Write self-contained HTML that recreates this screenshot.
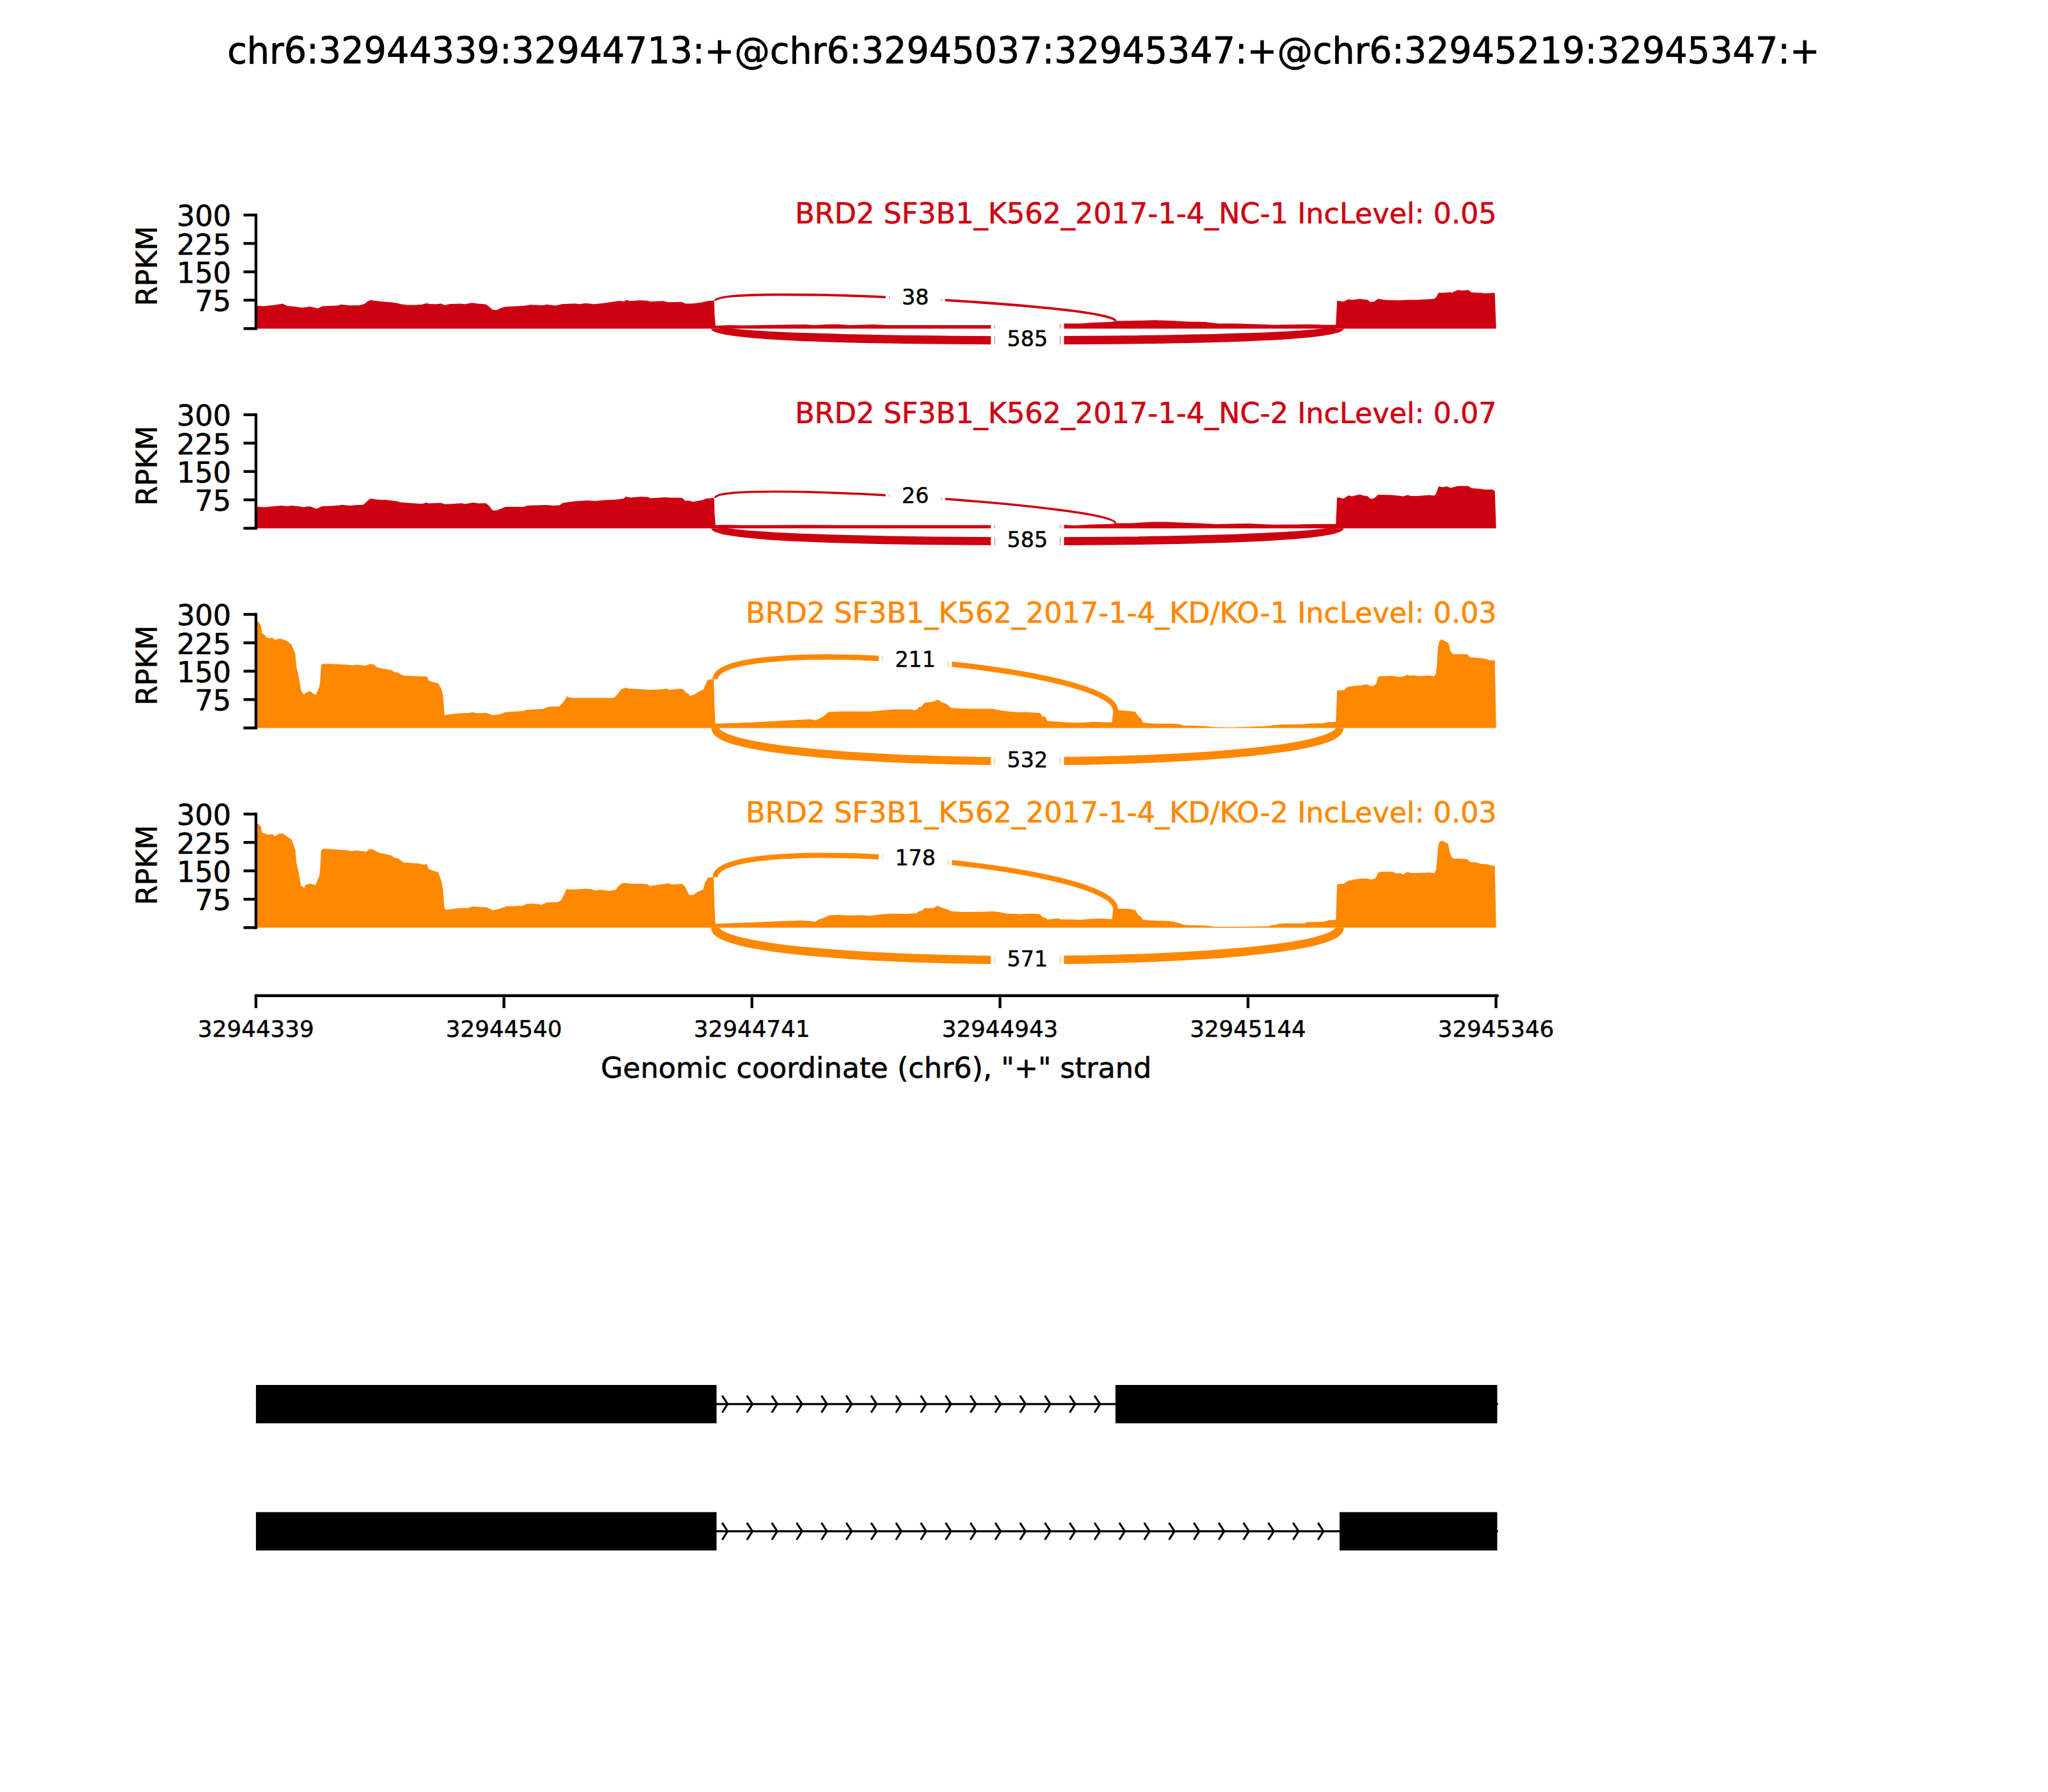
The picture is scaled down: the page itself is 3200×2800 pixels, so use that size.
<!DOCTYPE html>
<html lang="en"><head><meta charset="utf-8"><title>Sashimi plot</title>
<style>html,body{margin:0;padding:0;background:#fff}body{width:3200px;height:2800px;overflow:hidden}svg{display:block}text{font-family:"DejaVu Sans","Liberation Sans",sans-serif;fill:#000;stroke:#000;stroke-width:0.6px;stroke-linejoin:round}.t6{stroke-width:0.5px}.t10{stroke-width:0.75px}</style></head><body>
<svg width="3200" height="2800" viewBox="0 0 3200 2800">
<rect width="3200" height="2800" fill="#fff"/>
<text class="t10" transform="translate(1599.2 99) scale(1 1.025)" font-size="55.58" text-anchor="middle">chr6:32944339:32944713:+@chr6:32945037:32945347:+@chr6:32945219:32945347:+</text>
<path d="M399.9 513.4L399.9 477.7L402.7 477.7L411.5 478.5L429.1 476.6L441.8 474.6L448.6 478.1L458.4 478.7L472 480.7L484.7 479.1L496.4 482L503.3 478.5L526.7 477.5L533.6 475.8L546.2 477.3L561.9 477L569.7 474.8L574.6 470.7L578.5 468.9L597 471.3L610.7 472.3L620.5 473.4L626.3 475.2L636.1 476.6L649.8 476.6L659.5 475.8L666.4 473.8L671.2 475L683 475.2L688.8 474.2L694.7 476.8L702.5 475L720.1 474.4L725.9 475.2L737.7 473.2L747.4 474.4L759.1 475.4L764 479.1L769.9 484L775.7 484.4L782.6 481.6L789.6 479.3L790 479.3L819.3 477.7L829.1 476.2L848.6 477.1L854.5 475.8L868.1 477.5L877.9 475.2L897.4 474.2L905.2 475.2L915 473.8L928.7 475.2L946.2 473.2L967.7 469.9L975.5 470.9L977.5 468.8L985.3 470.3L1000.9 469.3L1010.7 469.7L1016.6 471.3L1036.1 470.3L1043.9 472.3L1065.4 471.7L1071.2 474.6L1083 474.2L1094.7 472.7L1106.4 470.3L1115.8 469.5L1116.6 491.8L1118.1 509L1137.7 508L1161.1 508.4L1189.6 508L1190 508L1201.7 507.8L1258.4 507L1272 508L1295.5 506.8L1311.1 506.8L1326.7 508L1365.8 507L1385.3 508L1443.9 508L1548.4 508L1589.6 507L1590 507L1662.3 505.5L1687.7 505.5L1707.2 503.9L1736.5 503.1L1744.3 501.6L1765.8 501.2L1804.8 500.2L1834.1 501.2L1853.7 502.5L1883 503.1L1902.5 505.5L1931.8 505.5L1961.1 506.4L1989.6 507.4L1990 507.4L2042.7 506.8L2068.1 507.4L2087.3 507.4L2089.2 469.9L2099.4 471.3L2107.2 467.4L2112.1 468.8L2124.8 467L2136.5 468.4L2141.4 471.9L2147.2 471.3L2153.1 467L2165.8 468.8L2185.3 469.3L2199 468.4L2214.6 468.4L2241 467L2243.9 464.5L2247.8 457.6L2255.6 457.6L2266.4 456.6L2268.3 457.6L2277.1 453.3L2286.9 454.1L2293.7 453.1L2299.6 457L2314.2 457.6L2320.1 458.6L2333.8 457.6L2335.7 458.6L2337.7 512.9L2337.7 513.4Z" fill="#CC0011"/>
<path d="M1117.6 469.7 C1117.6 444.2 1742.9 476 1742.9 501.5" fill="none" stroke="#CC0011" stroke-width="3.8"/>
<path d="M1117.6 513.4 C1117.6 537.7 2093.1 537.7 2093.1 513.4" fill="none" stroke="#CC0011" stroke-width="13"/>
<rect x="1390.1" y="429" width="80.2" height="75" fill="#fff"/>
<rect x="1383.7" y="429" width="5.5" height="75" fill="#fff"/>
<rect x="1471.3" y="429" width="5.5" height="75" fill="#fff"/>
<rect x="1388.7" y="429" width="83" height="75" fill="#fff" fill-opacity="0.35"/>
<text class="t6" x="1430.2" y="476.3" font-size="33.3" text-anchor="middle">38</text>
<rect x="1554.6" y="494.1" width="101.4" height="75" fill="#fff"/>
<rect x="1548.2" y="494.1" width="5.5" height="75" fill="#fff"/>
<rect x="1657" y="494.1" width="5.5" height="75" fill="#fff"/>
<rect x="1553.2" y="494.1" width="104.2" height="75" fill="#fff" fill-opacity="0.35"/>
<text class="t6" x="1605.3" y="541.4" font-size="33.3" text-anchor="middle">585</text>
<path d="M399.9 336V513.4" stroke="#000" stroke-width="4.4" stroke-linecap="square" fill="none"/>
<path d="M380.5 336H399.9" stroke="#000" stroke-width="4.4" fill="none"/>
<text x="361.2" y="353.2" font-size="44.5" text-anchor="end">300</text>
<path d="M380.5 380.4H399.9" stroke="#000" stroke-width="4.4" fill="none"/>
<text x="361.2" y="397.6" font-size="44.5" text-anchor="end">225</text>
<path d="M380.5 424.7H399.9" stroke="#000" stroke-width="4.4" fill="none"/>
<text x="361.2" y="441.9" font-size="44.5" text-anchor="end">150</text>
<path d="M380.5 469H399.9" stroke="#000" stroke-width="4.4" fill="none"/>
<text x="361.2" y="486.2" font-size="44.5" text-anchor="end">75</text>
<path d="M380.5 513.4H399.9" stroke="#000" stroke-width="4.4" fill="none"/>
<text transform="translate(245.4 415.7) rotate(-90)" font-size="44.5" text-anchor="middle">RPKM</text>
<text x="2338.7" y="349" font-size="44.5" text-anchor="end" style="fill:#CC0011;stroke:#CC0011">BRD2 SF3B1_K562_2017-1-4_NC-1 IncLevel: 0.05</text>
<path d="M399.9 825.4L399.9 791.7L402.7 791.7L413.4 792.5L429.1 791.1L440.8 790.1L448.6 791.1L456.4 790.1L466.2 791.1L474 792.5L483.8 790.9L494.5 795L503.3 791.1L526.7 790.1L534.5 788.8L546.2 790.1L558 789.1L567.7 788.8L573.6 783.3L578.5 779L593.1 780.9L604.8 781.3L620.5 783.3L626.3 784.9L643.9 786.2L659.5 787.2L666.4 785.2L669.3 786.4L688.8 785.8L694.7 787.8L702.5 787.4L722 786.2L725.9 787.6L739.6 785.2L747.4 786.4L759.1 786.2L764 790.1L769.9 797.4L775.7 797.4L782.6 795L789.6 792.1L790 792.1L818.3 792.1L823.2 790.1L854.5 789.1L864.2 790.1L874 789.5L879.8 785.8L897.4 783.3L917 781.9L930.6 782.7L946.2 781.3L961.9 780.8L974.6 779L977.5 776.1L985.3 777.4L1000.9 776.1L1011.7 776.5L1016.6 778.4L1040 777L1047.8 777.8L1065.4 777.8L1071.2 782.7L1075.2 781.9L1083 783.9L1098.6 781.3L1102.5 779L1115.8 778L1116.6 803.8L1118.1 820.8L1125.9 820L1161.1 820.6L1189.6 820.6L1190 820.6L1248.6 820.2L1326.7 820.6L1404.8 820.4L1483 820.6L1548.4 820.6L1589.6 820.4L1590 820.4L1662.3 820L1677.9 821L1707.2 819.4L1736.5 818.8L1744.3 817.5L1765.8 817.5L1800.9 815.5L1824.4 815.5L1843.9 816.5L1873.2 817.5L1898.6 819L1922 818.4L1951.3 818.1L1970.9 819L1989.6 819.8L1990 819.8L2029.1 819.4L2068.1 818.8L2087.3 818.8L2089.2 777L2099.4 779L2107.2 774.1L2112.1 775.5L2124.8 772.5L2130.6 774.5L2136.5 775.1L2141.4 779.4L2147.2 778.4L2153.1 772.9L2175.5 773.5L2193.1 775.5L2199 773.5L2204.8 775.1L2214.6 775.1L2234.1 773.5L2241 774.5L2243.9 771.6L2247.8 759.9L2253.7 761.2L2261.5 759.9L2266.4 762.4L2277.1 759.5L2293.7 759.3L2299.6 762.8L2314.2 764.1L2320.1 765.1L2331.8 764.7L2335.7 767.3L2337.7 824.9L2337.7 825.4Z" fill="#CC0011"/>
<path d="M1117.6 777.7 C1117.6 749.6 1742.9 789.4 1742.9 817.5" fill="none" stroke="#CC0011" stroke-width="3.4"/>
<path d="M1117.6 825.4 C1117.6 852.4 2093.1 852.4 2093.1 825.4" fill="none" stroke="#CC0011" stroke-width="12.7"/>
<rect x="1390.1" y="739" width="80.2" height="75" fill="#fff"/>
<rect x="1383.7" y="739" width="5.5" height="75" fill="#fff"/>
<rect x="1471.3" y="739" width="5.5" height="75" fill="#fff"/>
<rect x="1388.7" y="739" width="83" height="75" fill="#fff" fill-opacity="0.35"/>
<text class="t6" x="1430.2" y="786.3" font-size="33.3" text-anchor="middle">26</text>
<rect x="1554.6" y="808.1" width="101.4" height="75" fill="#fff"/>
<rect x="1548.2" y="808.1" width="5.5" height="75" fill="#fff"/>
<rect x="1657" y="808.1" width="5.5" height="75" fill="#fff"/>
<rect x="1553.2" y="808.1" width="104.2" height="75" fill="#fff" fill-opacity="0.35"/>
<text class="t6" x="1605.3" y="855.4" font-size="33.3" text-anchor="middle">585</text>
<path d="M399.9 648V825.4" stroke="#000" stroke-width="4.4" stroke-linecap="square" fill="none"/>
<path d="M380.5 648H399.9" stroke="#000" stroke-width="4.4" fill="none"/>
<text x="361.2" y="665.2" font-size="44.5" text-anchor="end">300</text>
<path d="M380.5 692.4H399.9" stroke="#000" stroke-width="4.4" fill="none"/>
<text x="361.2" y="709.6" font-size="44.5" text-anchor="end">225</text>
<path d="M380.5 736.7H399.9" stroke="#000" stroke-width="4.4" fill="none"/>
<text x="361.2" y="753.9" font-size="44.5" text-anchor="end">150</text>
<path d="M380.5 781H399.9" stroke="#000" stroke-width="4.4" fill="none"/>
<text x="361.2" y="798.2" font-size="44.5" text-anchor="end">75</text>
<path d="M380.5 825.4H399.9" stroke="#000" stroke-width="4.4" fill="none"/>
<text transform="translate(245.4 727.7) rotate(-90)" font-size="44.5" text-anchor="middle">RPKM</text>
<text x="2338.7" y="661" font-size="44.5" text-anchor="end" style="fill:#CC0011;stroke:#CC0011">BRD2 SF3B1_K562_2017-1-4_NC-2 IncLevel: 0.07</text>
<path d="M399.9 1137.4L399.9 971.5L402.7 971.5L404.6 972.5L407.6 977.3L409.5 990L412.5 990.6L415.4 995.3L419.3 996.9L426.1 996.5L429.1 999.8L435.9 997.9L441.8 998.8L448.6 1001.8L455.4 1007L458.4 1014.5L461.3 1021.3L463.2 1041.8L467.1 1059.4L470.1 1077L472 1082.4L473.6 1082.8L475 1086.3L476.9 1082.4L484.7 1080.3L489.6 1083.8L493.1 1085.7L496.4 1078.9L499 1073L500.4 1063.3L501.7 1038.9L505.2 1037.1L517 1037.3L530.6 1037.9L542.3 1038.5L548.2 1039.5L558 1038.7L565.8 1039.6L570.7 1040.2L577.5 1037.5L584.3 1038.3L587.3 1041.4L593.1 1043.8L600.9 1045.1L611.7 1047.3L616.6 1050.2L621.4 1050.8L628.3 1054.9L636.1 1055.9L651.7 1056.6L667.3 1057L669.7 1063.3L675.2 1065.6L684.9 1067.8L689.8 1077L692.3 1086.7L693.7 1104.3L694.3 1117.4L702.5 1116.2L718.1 1114.5L731.8 1114.1L738.6 1113.1L747.4 1114.5L759.1 1113.7L769.9 1117.4L778.7 1116.4L789.6 1113.1L790 1112.7L819.3 1110.7L821.2 1109.2L848.6 1107.8L852.5 1105.7L858.4 1104.3L874 1103.7L878.9 1098.4L882.8 1093.6L885.7 1087.7L888.6 1089.6L895.5 1090.6L917 1090.6L946.2 1090.6L958 1090.6L961.9 1088.3L965.8 1083.2L971.6 1076.6L977.5 1074.2L982.4 1076L1004.8 1077L1014.6 1078.1L1034.1 1077L1042 1076L1045.9 1077.9L1063.4 1076L1067.3 1077L1073.2 1083.8L1075.5 1082.8L1077.1 1087.3L1083 1086.1L1090.8 1081.2L1099.6 1077L1101.5 1071.1L1105.4 1063.3L1107.4 1061.7L1115.2 1061.3L1116.2 1098.4L1117.7 1130.7L1161.1 1129.3L1189.6 1128.1L1190 1128.1L1209.5 1126.8L1238.8 1125.2L1266.2 1123.8L1274 1125.4L1281.8 1121.9L1287.7 1118.4L1291.6 1114.5L1295.5 1112.5L1317 1111.5L1358 1111.7L1375.5 1110.2L1395.1 1108.6L1424.4 1108.6L1428.3 1109.8L1433.2 1108.2L1436.1 1104.7L1440 1103.9L1443.9 1098.4L1447.8 1097.5L1457.6 1096.5L1465.4 1093.2L1471.2 1096.9L1479.1 1100L1485.9 1105.9L1502.5 1107.2L1522 1107.4L1551.3 1107.4L1561.1 1109.8L1576.7 1111.7L1589.6 1112.7L1590 1113.1L1601.7 1112.5L1625.2 1114.1L1628.1 1118.9L1633 1119.9L1636.9 1126.8L1654.5 1127.7L1672 1128.9L1687.7 1129.3L1707.2 1128.1L1737.5 1128.7L1739.4 1109.2L1746.2 1109.6L1773.6 1112.1L1779.5 1119.9L1782.4 1121.9L1786.3 1129.3L1804.8 1130.7L1830.2 1130.7L1843.9 1131.6L1847.8 1133.6L1883 1134.6L1894.7 1135.9L1922 1136.5L1941.6 1136.1L1961.1 1135.2L1984.5 1134.2L1989.6 1132.8L1990 1133.2L2003.7 1132L2038.8 1131.6L2042.7 1130.7L2068.1 1130.1L2075.9 1128.3L2087.3 1128.1L2089.2 1078.9L2100.4 1078.3L2105.2 1073.4L2117 1071.5L2126.7 1071.1L2135.5 1069.1L2141.4 1072.1L2147.2 1071.5L2150.5 1067.2L2153.1 1058.4L2156 1056.6L2175.5 1056.1L2185.3 1057.4L2193.1 1057L2199 1054.1L2202.9 1055.9L2208.8 1055.1L2216.6 1056.4L2234.1 1055.5L2241 1057L2243.9 1051.6L2245.5 1034L2246.8 1012.5L2248.8 1001.8L2252.7 998.8L2256.6 1001.2L2263.4 1004.7L2265.8 1016.4L2270.3 1022.3L2292.7 1022.3L2297.6 1027.5L2306.4 1027.5L2322 1029.5L2326.9 1031.6L2335.7 1032L2337.7 1137.1L2337.7 1137.4Z" fill="#FF8800"/>
<path d="M1117.6 1061.3 C1117.6 990.6 1742.9 1039.3 1742.9 1110" fill="none" stroke="#FF8800" stroke-width="8.5"/>
<path d="M1117.6 1137.4 C1117.6 1206.6 2093.1 1206.6 2093.1 1137.4" fill="none" stroke="#FF8800" stroke-width="12.6"/>
<rect x="1379.5" y="995.1" width="101.4" height="75" fill="#fff"/>
<rect x="1373.1" y="995.1" width="5.5" height="75" fill="#fff"/>
<rect x="1481.9" y="995.1" width="5.5" height="75" fill="#fff"/>
<rect x="1378.1" y="995.1" width="104.2" height="75" fill="#fff" fill-opacity="0.35"/>
<text class="t6" x="1430.2" y="1042.4" font-size="33.3" text-anchor="middle">211</text>
<rect x="1554.6" y="1151.8" width="101.4" height="75" fill="#fff"/>
<rect x="1548.2" y="1151.8" width="5.5" height="75" fill="#fff"/>
<rect x="1657" y="1151.8" width="5.5" height="75" fill="#fff"/>
<rect x="1553.2" y="1151.8" width="104.2" height="75" fill="#fff" fill-opacity="0.35"/>
<text class="t6" x="1605.3" y="1199.1" font-size="33.3" text-anchor="middle">532</text>
<path d="M399.9 960V1137.4" stroke="#000" stroke-width="4.4" stroke-linecap="square" fill="none"/>
<path d="M380.5 960H399.9" stroke="#000" stroke-width="4.4" fill="none"/>
<text x="361.2" y="977.2" font-size="44.5" text-anchor="end">300</text>
<path d="M380.5 1004.4H399.9" stroke="#000" stroke-width="4.4" fill="none"/>
<text x="361.2" y="1021.6" font-size="44.5" text-anchor="end">225</text>
<path d="M380.5 1048.7H399.9" stroke="#000" stroke-width="4.4" fill="none"/>
<text x="361.2" y="1065.9" font-size="44.5" text-anchor="end">150</text>
<path d="M380.5 1093.1H399.9" stroke="#000" stroke-width="4.4" fill="none"/>
<text x="361.2" y="1110.3" font-size="44.5" text-anchor="end">75</text>
<path d="M380.5 1137.4H399.9" stroke="#000" stroke-width="4.4" fill="none"/>
<text transform="translate(245.4 1039.7) rotate(-90)" font-size="44.5" text-anchor="middle">RPKM</text>
<text x="2338.7" y="973" font-size="44.5" text-anchor="end" style="fill:#FF8800;stroke:#FF8800">BRD2 SF3B1_K562_2017-1-4_KD/KO-1 IncLevel: 0.03</text>
<path d="M399.9 1449.4L399.9 1287L402.7 1287L404.6 1288.4L407.6 1290.9L409.5 1301.6L413.4 1302L417.3 1304L426.1 1303.6L429.1 1306.5L436.9 1302.6L441.8 1302.4L448.6 1306.9L455.4 1311.8L458.4 1319.6L461.3 1327.4L463.2 1347.9L467.1 1365.5L470.1 1384.1L473.6 1385.4L475 1389L476.9 1383.1L484.7 1380.6L488.6 1382.1L493.1 1382.7L496.4 1374.3L499 1368.4L500.4 1355.8L501.7 1328.4L505.2 1326.1L517 1326.5L530.6 1328L542.3 1328.4L548.2 1329.8L558 1329L567.7 1330L571.6 1331.3L577.5 1326.5L583.4 1327.4L587.3 1330L593.1 1332.7L600.9 1334.3L611.7 1336.8L616.6 1340.5L622.4 1341.3L630.2 1347.5L643.9 1348.5L655.6 1349.3L660.5 1350.9L667.3 1350.3L669.7 1357.7L675.2 1359.7L684.9 1363L689.8 1377.2L692.3 1390.9L693.7 1410.4L694.7 1420.2L698.6 1421.4L706.4 1420.2L720.1 1418.8L731.8 1418.8L737.7 1416.3L747.4 1416.9L760.1 1417.7L770.9 1422.2L778.7 1420.2L789.6 1416.9L790 1416.3L817.3 1415.3L822.2 1412.4L831 1411.8L846.6 1413.4L854.5 1410L872 1409.5L876.9 1406.5L880.8 1398.7L885.1 1389.3L895.5 1389.9L917 1388.6L926.7 1389.9L929.6 1391.5L938.4 1390.3L952.1 1391.9L961.9 1390.5L965.8 1385L971.6 1380.2L978.5 1379.6L985.3 1381.1L1002.9 1380.8L1012.7 1382.1L1014.6 1384.5L1024.4 1383.1L1043.9 1380.2L1049.8 1382.1L1065.4 1381.1L1070.3 1385L1074.2 1392.9L1077.1 1398.7L1083.9 1398.1L1090.8 1392.9L1098.6 1389.9L1101.5 1379.2L1106 1371.4L1115.2 1370.4L1116.2 1410.4L1117.7 1443.6L1161.1 1441.7L1189.6 1440.7L1190 1440.7L1219.3 1439.3L1252.5 1438.2L1266.2 1439.3L1274 1440.3L1279.8 1436.4L1287.7 1433.9L1295.5 1430L1311.1 1429.6L1326.7 1430.4L1346.2 1430L1358 1430.9L1377.5 1428.6L1395.1 1427.4L1414.6 1428L1432.2 1427L1436.1 1423.7L1441 1422.5L1443.9 1419.2L1457.6 1418.8L1465.4 1415.3L1471.2 1418.2L1481 1421.2L1486.9 1424.1L1506.4 1425.1L1531.8 1424.7L1551.3 1424.1L1561.1 1425.1L1572.8 1427.6L1589.6 1428L1590 1428.4L1609.5 1427.6L1625.2 1428.6L1629.1 1432.9L1633 1433.5L1636.9 1436.8L1646.6 1435.4L1654.5 1434.9L1656.4 1436.4L1672 1436.4L1687.7 1437.2L1707.2 1435.4L1722.8 1435.2L1737.5 1436.2L1739.4 1419.2L1746.2 1419.8L1765.8 1420.2L1774.6 1422.5L1778.5 1430L1782.4 1431.9L1786.3 1437.2L1804.8 1438.4L1824.4 1439.1L1834.1 1440.3L1843.9 1442.7L1849.8 1445.2L1883 1446.2L1898.6 1447.9L1941.6 1448.1L1982.6 1447.2L1986.5 1445.6L1989.6 1445.2L1990 1445.6L1997.8 1443.6L2009.5 1442.7L2038.8 1442.7L2041.8 1440.7L2068.1 1440.3L2075.9 1437.8L2087.3 1437.2L2089.2 1381.5L2099.4 1381.1L2105.2 1376.8L2117 1373.9L2126.7 1372.9L2135.5 1372.4L2141.4 1374.3L2147.2 1373.3L2150.5 1370.4L2153.1 1363.6L2158 1362.2L2175.5 1362L2182.4 1364.9L2187.3 1364.1L2192.1 1366.5L2199 1362.6L2204.8 1364L2216.6 1364.1L2234.1 1363.2L2241 1364.5L2243.9 1358.7L2245.5 1344L2246.8 1324.5L2248.8 1315.7L2252.7 1313.2L2256.6 1315.3L2262.5 1318.2L2265.8 1334.3L2270.3 1341.5L2279.1 1341.5L2292.7 1342.7L2297.6 1347L2306.4 1347.5L2314.2 1349.9L2324 1350.3L2328.9 1352.2L2335.7 1352.4L2337.7 1449.1L2337.7 1449.4Z" fill="#FF8800"/>
<path d="M1117.6 1370.6 C1117.6 1300.3 1742.9 1349.7 1742.9 1420" fill="none" stroke="#FF8800" stroke-width="8"/>
<path d="M1117.6 1449.4 C1117.6 1516.9 2093.1 1516.9 2093.1 1449.4" fill="none" stroke="#FF8800" stroke-width="13.1"/>
<rect x="1379.5" y="1305.1" width="101.4" height="75" fill="#fff"/>
<rect x="1373.1" y="1305.1" width="5.5" height="75" fill="#fff"/>
<rect x="1481.9" y="1305.1" width="5.5" height="75" fill="#fff"/>
<rect x="1378.1" y="1305.1" width="104.2" height="75" fill="#fff" fill-opacity="0.35"/>
<text class="t6" x="1430.2" y="1352.4" font-size="33.3" text-anchor="middle">178</text>
<rect x="1554.6" y="1462.5" width="101.4" height="75" fill="#fff"/>
<rect x="1548.2" y="1462.5" width="5.5" height="75" fill="#fff"/>
<rect x="1657" y="1462.5" width="5.5" height="75" fill="#fff"/>
<rect x="1553.2" y="1462.5" width="104.2" height="75" fill="#fff" fill-opacity="0.35"/>
<text class="t6" x="1605.3" y="1509.8" font-size="33.3" text-anchor="middle">571</text>
<path d="M399.9 1272V1449.4" stroke="#000" stroke-width="4.4" stroke-linecap="square" fill="none"/>
<path d="M380.5 1272H399.9" stroke="#000" stroke-width="4.4" fill="none"/>
<text x="361.2" y="1289.2" font-size="44.5" text-anchor="end">300</text>
<path d="M380.5 1316.3H399.9" stroke="#000" stroke-width="4.4" fill="none"/>
<text x="361.2" y="1333.5" font-size="44.5" text-anchor="end">225</text>
<path d="M380.5 1360.7H399.9" stroke="#000" stroke-width="4.4" fill="none"/>
<text x="361.2" y="1377.9" font-size="44.5" text-anchor="end">150</text>
<path d="M380.5 1405.1H399.9" stroke="#000" stroke-width="4.4" fill="none"/>
<text x="361.2" y="1422.3" font-size="44.5" text-anchor="end">75</text>
<path d="M380.5 1449.4H399.9" stroke="#000" stroke-width="4.4" fill="none"/>
<text transform="translate(245.4 1351.7) rotate(-90)" font-size="44.5" text-anchor="middle">RPKM</text>
<text x="2338.7" y="1285" font-size="44.5" text-anchor="end" style="fill:#FF8800;stroke:#FF8800">BRD2 SF3B1_K562_2017-1-4_KD/KO-2 IncLevel: 0.03</text>
<path d="M399.9 1555.7H2339.4" stroke="#000" stroke-width="4.4" stroke-linecap="square" fill="none"/>
<path d="M399.9 1555.7V1575.1" stroke="#000" stroke-width="4.4" fill="none"/>
<text class="t6" x="399.9" y="1620.4" font-size="35.7" text-anchor="middle">32944339</text>
<path d="M787.4 1555.7V1575.1" stroke="#000" stroke-width="4.4" fill="none"/>
<text class="t6" x="787.4" y="1620.4" font-size="35.7" text-anchor="middle">32944540</text>
<path d="M1174.9 1555.7V1575.1" stroke="#000" stroke-width="4.4" fill="none"/>
<text class="t6" x="1174.9" y="1620.4" font-size="35.7" text-anchor="middle">32944741</text>
<path d="M1562.5 1555.7V1575.1" stroke="#000" stroke-width="4.4" fill="none"/>
<text class="t6" x="1562.5" y="1620.4" font-size="35.7" text-anchor="middle">32944943</text>
<path d="M1950 1555.7V1575.1" stroke="#000" stroke-width="4.4" fill="none"/>
<text class="t6" x="1950" y="1620.4" font-size="35.7" text-anchor="middle">32945144</text>
<path d="M2337.5 1555.7V1575.1" stroke="#000" stroke-width="4.4" fill="none"/>
<text class="t6" x="2337.5" y="1620.4" font-size="35.7" text-anchor="middle">32945346</text>
<text x="1369" y="1684" font-size="44.5" text-anchor="middle">Genomic coordinate (chr6), &quot;+&quot; strand</text>
<path d="M399.9 2193.9H2340.6" stroke="#000" stroke-width="3.1" fill="none"/>
<path d="M430.9 2181.9L438.7 2193.9L430.9 2205.9M469.7 2181.9L477.5 2193.9L469.7 2205.9M508.5 2181.9L516.3 2193.9L508.5 2205.9M547.3 2181.9L555.1 2193.9L547.3 2205.9M586.1 2181.9L593.8 2193.9L586.1 2205.9M624.9 2181.9L632.6 2193.9L624.9 2205.9M663.7 2181.9L671.4 2193.9L663.7 2205.9M702.5 2181.9L710.2 2193.9L702.5 2205.9M741.3 2181.9L749 2193.9L741.3 2205.9M780 2181.9L787.8 2193.9L780 2205.9M818.8 2181.9L826.6 2193.9L818.8 2205.9M857.6 2181.9L865.4 2193.9L857.6 2205.9M896.4 2181.9L904.2 2193.9L896.4 2205.9M935.2 2181.9L943 2193.9L935.2 2205.9M974 2181.9L981.8 2193.9L974 2205.9M1012.8 2181.9L1020.5 2193.9L1012.8 2205.9M1051.6 2181.9L1059.3 2193.9L1051.6 2205.9M1090.4 2181.9L1098.1 2193.9L1090.4 2205.9M1129.2 2181.9L1136.9 2193.9L1129.2 2205.9M1167.9 2181.9L1175.7 2193.9L1167.9 2205.9M1206.7 2181.9L1214.5 2193.9L1206.7 2205.9M1245.5 2181.9L1253.3 2193.9L1245.5 2205.9M1284.3 2181.9L1292.1 2193.9L1284.3 2205.9M1323.1 2181.9L1330.9 2193.9L1323.1 2205.9M1361.9 2181.9L1369.7 2193.9L1361.9 2205.9M1400.7 2181.9L1408.4 2193.9L1400.7 2205.9M1439.5 2181.9L1447.2 2193.9L1439.5 2205.9M1478.3 2181.9L1486 2193.9L1478.3 2205.9M1517.1 2181.9L1524.8 2193.9L1517.1 2205.9M1555.8 2181.9L1563.6 2193.9L1555.8 2205.9M1594.6 2181.9L1602.4 2193.9L1594.6 2205.9M1633.4 2181.9L1641.2 2193.9L1633.4 2205.9M1672.2 2181.9L1680 2193.9L1672.2 2205.9M1711 2181.9L1718.8 2193.9L1711 2205.9M1749.8 2181.9L1757.5 2193.9L1749.8 2205.9M1788.6 2181.9L1796.3 2193.9L1788.6 2205.9M1827.4 2181.9L1835.1 2193.9L1827.4 2205.9M1866.2 2181.9L1873.9 2193.9L1866.2 2205.9M1905 2181.9L1912.7 2193.9L1905 2205.9M1943.7 2181.9L1951.5 2193.9L1943.7 2205.9M1982.5 2181.9L1990.3 2193.9L1982.5 2205.9M2021.3 2181.9L2029.1 2193.9L2021.3 2205.9M2060.1 2181.9L2067.9 2193.9L2060.1 2205.9M2098.9 2181.9L2106.7 2193.9L2098.9 2205.9M2137.7 2181.9L2145.4 2193.9L2137.7 2205.9M2176.5 2181.9L2184.2 2193.9L2176.5 2205.9M2215.3 2181.9L2223 2193.9L2215.3 2205.9M2254.1 2181.9L2261.8 2193.9L2254.1 2205.9M2292.9 2181.9L2300.6 2193.9L2292.9 2205.9" stroke="#000" stroke-width="3.1" fill="none" stroke-linejoin="round" stroke-linecap="square"/>
<rect x="399.9" y="2164" width="719.7" height="59.9" fill="#000"/>
<rect x="1742.9" y="2164" width="596.5" height="59.9" fill="#000"/>
<path d="M399.9 2392.6H2340.6" stroke="#000" stroke-width="3.1" fill="none"/>
<path d="M430.9 2380.6L438.7 2392.6L430.9 2404.6M469.7 2380.6L477.5 2392.6L469.7 2404.6M508.5 2380.6L516.3 2392.6L508.5 2404.6M547.3 2380.6L555.1 2392.6L547.3 2404.6M586.1 2380.6L593.8 2392.6L586.1 2404.6M624.9 2380.6L632.6 2392.6L624.9 2404.6M663.7 2380.6L671.4 2392.6L663.7 2404.6M702.5 2380.6L710.2 2392.6L702.5 2404.6M741.3 2380.6L749 2392.6L741.3 2404.6M780 2380.6L787.8 2392.6L780 2404.6M818.8 2380.6L826.6 2392.6L818.8 2404.6M857.6 2380.6L865.4 2392.6L857.6 2404.6M896.4 2380.6L904.2 2392.6L896.4 2404.6M935.2 2380.6L943 2392.6L935.2 2404.6M974 2380.6L981.8 2392.6L974 2404.6M1012.8 2380.6L1020.5 2392.6L1012.8 2404.6M1051.6 2380.6L1059.3 2392.6L1051.6 2404.6M1090.4 2380.6L1098.1 2392.6L1090.4 2404.6M1129.2 2380.6L1136.9 2392.6L1129.2 2404.6M1167.9 2380.6L1175.7 2392.6L1167.9 2404.6M1206.7 2380.6L1214.5 2392.6L1206.7 2404.6M1245.5 2380.6L1253.3 2392.6L1245.5 2404.6M1284.3 2380.6L1292.1 2392.6L1284.3 2404.6M1323.1 2380.6L1330.9 2392.6L1323.1 2404.6M1361.9 2380.6L1369.7 2392.6L1361.9 2404.6M1400.7 2380.6L1408.4 2392.6L1400.7 2404.6M1439.5 2380.6L1447.2 2392.6L1439.5 2404.6M1478.3 2380.6L1486 2392.6L1478.3 2404.6M1517.1 2380.6L1524.8 2392.6L1517.1 2404.6M1555.8 2380.6L1563.6 2392.6L1555.8 2404.6M1594.6 2380.6L1602.4 2392.6L1594.6 2404.6M1633.4 2380.6L1641.2 2392.6L1633.4 2404.6M1672.2 2380.6L1680 2392.6L1672.2 2404.6M1711 2380.6L1718.8 2392.6L1711 2404.6M1749.8 2380.6L1757.5 2392.6L1749.8 2404.6M1788.6 2380.6L1796.3 2392.6L1788.6 2404.6M1827.4 2380.6L1835.1 2392.6L1827.4 2404.6M1866.2 2380.6L1873.9 2392.6L1866.2 2404.6M1905 2380.6L1912.7 2392.6L1905 2404.6M1943.7 2380.6L1951.5 2392.6L1943.7 2404.6M1982.5 2380.6L1990.3 2392.6L1982.5 2404.6M2021.3 2380.6L2029.1 2392.6L2021.3 2404.6M2060.1 2380.6L2067.9 2392.6L2060.1 2404.6M2098.9 2380.6L2106.7 2392.6L2098.9 2404.6M2137.7 2380.6L2145.4 2392.6L2137.7 2404.6M2176.5 2380.6L2184.2 2392.6L2176.5 2404.6M2215.3 2380.6L2223 2392.6L2215.3 2404.6M2254.1 2380.6L2261.8 2392.6L2254.1 2404.6M2292.9 2380.6L2300.6 2392.6L2292.9 2404.6" stroke="#000" stroke-width="3.1" fill="none" stroke-linejoin="round" stroke-linecap="square"/>
<rect x="399.9" y="2362.7" width="719.7" height="59.9" fill="#000"/>
<rect x="2093.1" y="2362.7" width="246.3" height="59.9" fill="#000"/>
</svg></body></html>
